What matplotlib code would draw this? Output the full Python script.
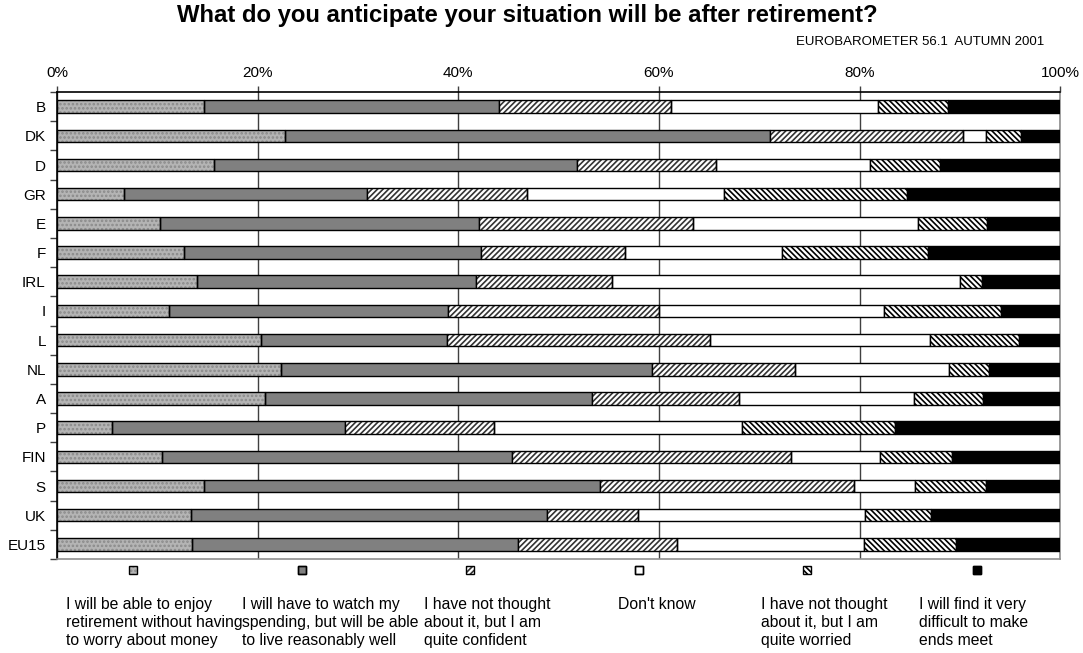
import numpy as np
import matplotlib
matplotlib.use("Agg")
import matplotlib.pyplot as plt
from matplotlib.patches import Rectangle

plt.rcParams['font.family'] = ['Liberation Sans', 'DejaVu Sans']
plt.rcParams['hatch.linewidth'] = 1.2

# data (percent per answer)
countries = ['B', 'DK', 'D', 'GR', 'E', 'F', 'IRL', 'I', 'L', 'NL', 'A', 'P', 'FIN', 'S', 'UK', 'EU15']
enjoy = [14.7, 22.7, 15.7, 6.7, 10.3, 12.7, 14.0, 11.2, 20.3, 22.3, 20.7, 5.5, 10.5, 14.7, 13.4, 13.5]
watch = [29.4, 48.4, 36.1, 24.2, 31.8, 29.6, 27.8, 27.8, 18.6, 37.0, 32.6, 23.2, 34.9, 39.4, 35.4, 32.5]
confident = [17.1, 19.2, 13.9, 15.9, 21.3, 14.3, 13.5, 21.0, 26.2, 14.3, 14.7, 14.9, 27.8, 25.3, 9.1, 15.8]
dont_know = [20.6, 2.3, 15.3, 19.7, 22.4, 15.7, 34.7, 22.4, 21.9, 15.3, 17.4, 24.7, 8.8, 6.1, 22.6, 18.6]
worried = [7.0, 3.5, 7.0, 18.2, 6.9, 14.5, 2.2, 11.7, 8.9, 4.0, 6.9, 15.2, 7.2, 7.1, 6.6, 9.2]
difficult = [11.2, 3.9, 12.0, 15.3, 7.3, 13.2, 7.8, 5.9, 4.1, 7.1, 7.7, 16.5, 10.8, 7.4, 12.9, 10.4]

labels = ['I will be able to enjoy\nretirement without having\nto worry about money',
          'I will have to watch my\nspending, but will be able\nto live reasonably well',
          'I have not thought\nabout it, but I am\nquite confident',
          "Don't know",
          'I have not thought\nabout it, but I am\nquite worried',
          'I will find it very\ndifficult to make\nends meet']
ticks = [0, 20, 40, 60, 80, 100]

# face colour, hatch, hatch colour
styles = [('#b4b4b4', '....', '#8a8a8a'),
          ('#808080', None, None),
          ('white', '//////', '#333333'),
          ('white', None, None),
          ('white', '\\\\\\\\\\\\', 'black'),
          ('black', None, None)]

series = [enjoy, watch, confident, dont_know, worried, difficult]

fig = plt.figure(figsize=(10.83, 6.53), dpi=100)
ax = fig.add_axes([0.0526, 0.144, 0.9264, 0.715])

y = np.arange(len(countries))
left = np.zeros(len(countries))
h = 0.43
for vals, (fc, hatch, hc) in zip(series, styles):
    vals = np.array(vals)
    if hatch:
        ax.barh(y, vals, left=left, height=h, color=fc, hatch=hatch,
                edgecolor=hc, linewidth=0, zorder=3)
        ax.barh(y, vals, left=left, height=h, fill=False,
                edgecolor='black', linewidth=1, zorder=4)
    else:
        ax.barh(y, vals, left=left, height=h, color=fc,
                edgecolor='black', linewidth=1, zorder=3)
    left += vals

ax.set_xlim(0, 100)
ax.set_ylim(len(countries) - 0.5, -0.5)

ax.set_xticks(ticks)
ax.set_xticklabels([f'{t}%' for t in ticks], fontsize=11)
ax.xaxis.tick_top()
ax.tick_params(axis='x', length=4, width=1, pad=5, color='#404040')

ax.set_yticks(y)
ax.set_yticklabels(countries, fontsize=11)
ax.set_yticks(np.arange(len(countries) + 1) - 0.5, minor=True)
ax.tick_params(axis='y', which='major', length=0, pad=8)
ax.tick_params(axis='y', which='minor', length=5, width=1, color='#404040')

ax.grid(axis='x', color='#404040', linewidth=1, zorder=0)
ax.spines['top'].set_color('black')
ax.spines['left'].set_color('black')
ax.spines['right'].set_color('#909090')
ax.spines['bottom'].set_color('#909090')
for s in ax.spines.values():
    s.set_linewidth(1.2)

fig.text(0.487, 0.977, 'What do you anticipate your situation will be after retirement?',
         ha='center', va='center', fontsize=17.2, fontweight='bold')
fig.text(0.964, 0.936, 'EUROBAROMETER 56.1  AUTUMN 2001', ha='right', va='center', fontsize=9.5)

# legend below the plot
sq_x = [133, 302, 470, 639, 807, 977]
txt_x = [66, 242, 424, 657, 761, 919]
W, H = 1083.0, 653.0
for i, (fc, hatch, hc) in enumerate(styles):
    x0 = (sq_x[i] - 4) / W
    y0 = 1 - (570 + 4) / H
    fig.add_artist(Rectangle((x0, y0), 8 / W, 8 / H, transform=fig.transFigure,
                             facecolor=fc, hatch=hatch, edgecolor=hc if hatch else 'black',
                             linewidth=0 if hatch else 1))
    fig.add_artist(Rectangle((x0, y0), 8 / W, 8 / H, transform=fig.transFigure,
                             fill=False, edgecolor='black', linewidth=1))
    fig.text(txt_x[i] / W, 1 - 597 / H, labels[i], ha='center' if labels[i] == "Don't know" else 'left',
             va='top', fontsize=11.3, linespacing=1.27)

fig.savefig('out.png', dpi=100)
